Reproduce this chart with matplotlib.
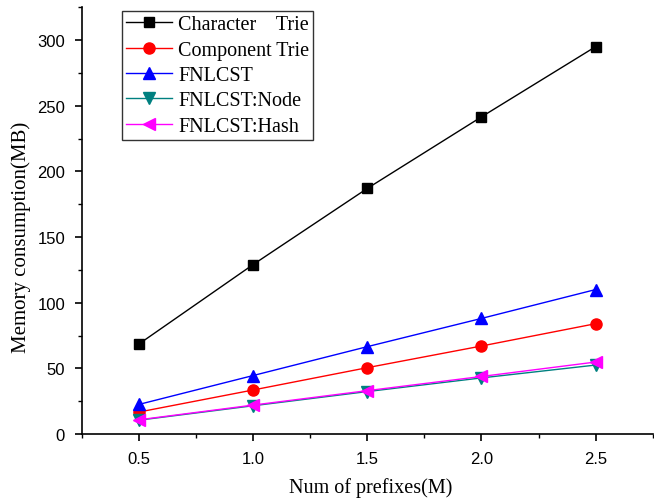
import matplotlib
matplotlib.use('Agg')
import matplotlib.pyplot as plt
from matplotlib.ticker import MultipleLocator

# data
prefixes = [0.5, 1.0, 1.5, 2.0, 2.5]
char_trie = [68.5, 129, 187, 241.5, 295]
comp_trie = [16.7, 33.5, 50.5, 67, 84]
fnlcst = [22.5, 44.5, 66.5, 88, 110]
fnlcst_node = [10.5, 21.5, 32.3, 42.7, 52.5]
fnlcst_hash = [10.8, 22, 33, 43.8, 54.8]
xtick_labels = ['0.5', '1.0', '1.5', '2.0', '2.5']

series = [
    ('Character    Trie', char_trie, 'black', 's', 7),
    ('Component Trie', comp_trie, 'red', 'o', 8),
    ('FNLCST', fnlcst, 'blue', '^', 8.5),
    ('FNLCST:Node', fnlcst_node, '#008080', 'v', 8.5),
    ('FNLCST:Hash', fnlcst_hash, 'magenta', '<', 8.5),
]

fig = plt.figure(figsize=(6.54, 5.02), dpi=100)
ax = fig.add_axes([0.125, 0.1335, 0.873, 0.85])

for label, vals, c, m, ms in series:
    ax.plot(prefixes, vals, color=c, marker=m, markersize=ms, linewidth=1, label=label)

ax.set_xlim(0.25, 2.75)
ax.set_ylim(0, 325)
ax.set_xticks(prefixes)
ax.set_xticklabels(xtick_labels)
ax.xaxis.set_minor_locator(MultipleLocator(0.25))
ax.yaxis.set_major_locator(MultipleLocator(50))
ax.yaxis.set_minor_locator(MultipleLocator(25))
ax.spines['top'].set_visible(False)
ax.spines['right'].set_visible(False)
ax.spines['left'].set_linewidth(1.2)
ax.spines['bottom'].set_linewidth(1.2)
ax.tick_params(which='major', direction='out', length=5, width=1.2,
               labelsize=12, pad=7)
ax.tick_params(which='minor', direction='out', length=3, width=1.0)
for t in ax.get_xticklabels() + ax.get_yticklabels():
    t.set_family('Liberation Sans')

ax.set_xlabel('Num of prefixes(M)', family='Liberation Serif', fontsize=14.5)
ax.xaxis.set_label_coords(0.506, -0.124)
ax.xaxis.label.set_va('center')
ax.set_ylabel('Memory consumption(MB)', family='Liberation Serif', fontsize=15)
ax.yaxis.set_label_coords(-0.107, 0.464)
ax.yaxis.label.set_va('center')

leg = ax.legend(loc='upper left', bbox_to_anchor=(0.07, 0.991),
                prop={'family': 'Liberation Serif', 'size': 14.5},
                frameon=True, fancybox=False, handlelength=2.3, handletextpad=0.3,
                labelspacing=0.31, borderpad=0.2, borderaxespad=0)
leg.get_frame().set_edgecolor('black')
leg.get_frame().set_linewidth(1.0)

fig.savefig('out.png', dpi=100)
